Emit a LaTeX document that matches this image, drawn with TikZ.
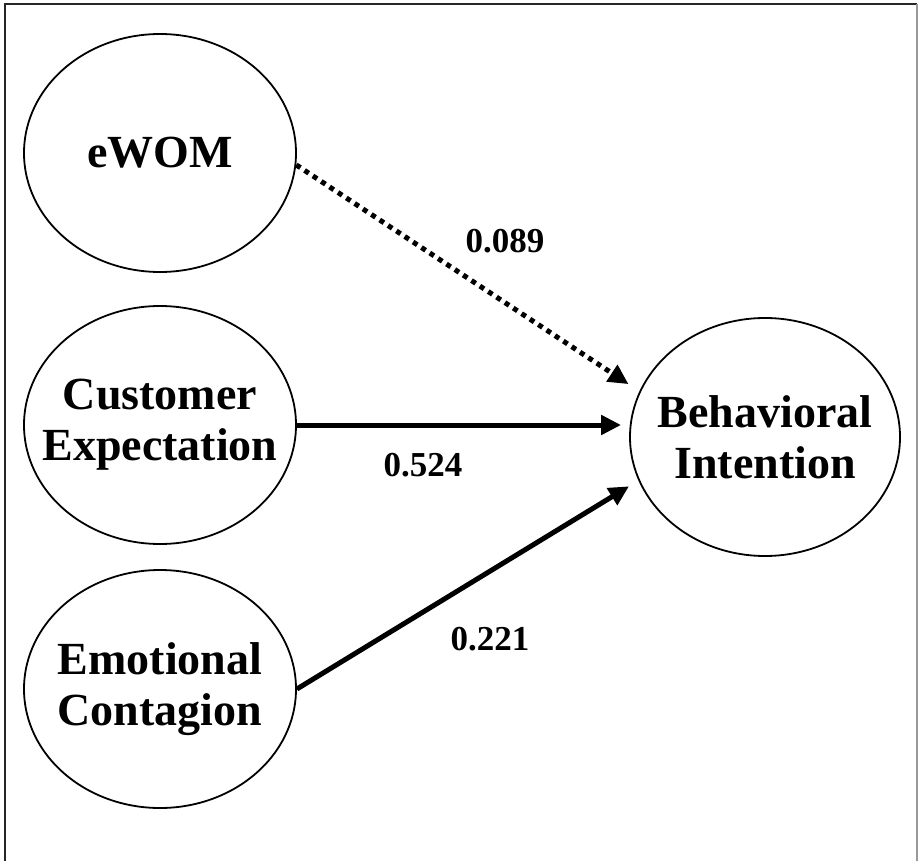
\documentclass[tikz,border=0pt]{standalone}
\usepackage{fontspec}
\setmainfont{Liberation Serif}
\usetikzlibrary{arrows.meta,shapes.geometric}

\tikzset{
  construct/.style={ellipse, draw=black, line width=1.8pt,
    minimum width=272pt, minimum height=238pt,
    inner xsep=-40pt, inner ysep=0pt,
    align=center, font=\fontsize{46}{51}\selectfont\bfseries},
  path/.style={line width=5pt, draw=black,
    -{Triangle[length=20pt,width=19pt]}},
  weak/.style={path, dash pattern=on 5pt off 5pt},
  coef/.style={font=\fontsize{35}{40}\selectfont\bfseries, inner sep=0pt}
}

\begin{document}
\begin{tikzpicture}[x=1pt,y=-1pt]
  \useasboundingbox (0,0) rectangle (918,861);

  % open frame (top, left and right sides)
  \draw[line width=2.5pt, black!85] (5,861) -- (5,4) -- (917,4);
  \draw[line width=1.5pt, black!40] (917,4) -- (917,861);

  % constructs
  \node[construct] (ewom) at (160,153) {eWOM};
  \node[construct] (ce) at (160,425) {Customer\\Expectation};
  \node[construct] (ec) at (160,689) {Emotional\\Contagion};
  \node[construct, minimum width=270pt] (bi) at (765,437) {Behavioral\\Intention};

  % structural paths
  \draw[weak, shorten >=13pt] (ewom.-5) -- (bi.160);
  \draw[path, shorten >=8pt] (ce.east) -- (ce.east -| bi.west);
  \draw[path, shorten >=11pt] (ec.east) -- (bi.199);

  % path coefficients
  \node[coef] (l1) at (505,241) {0.089};
  \node[coef] (l2) at (423,465) {0.524};
  \node[coef] (l3) at (490,639) {0.221};
\end{tikzpicture}
\end{document}
